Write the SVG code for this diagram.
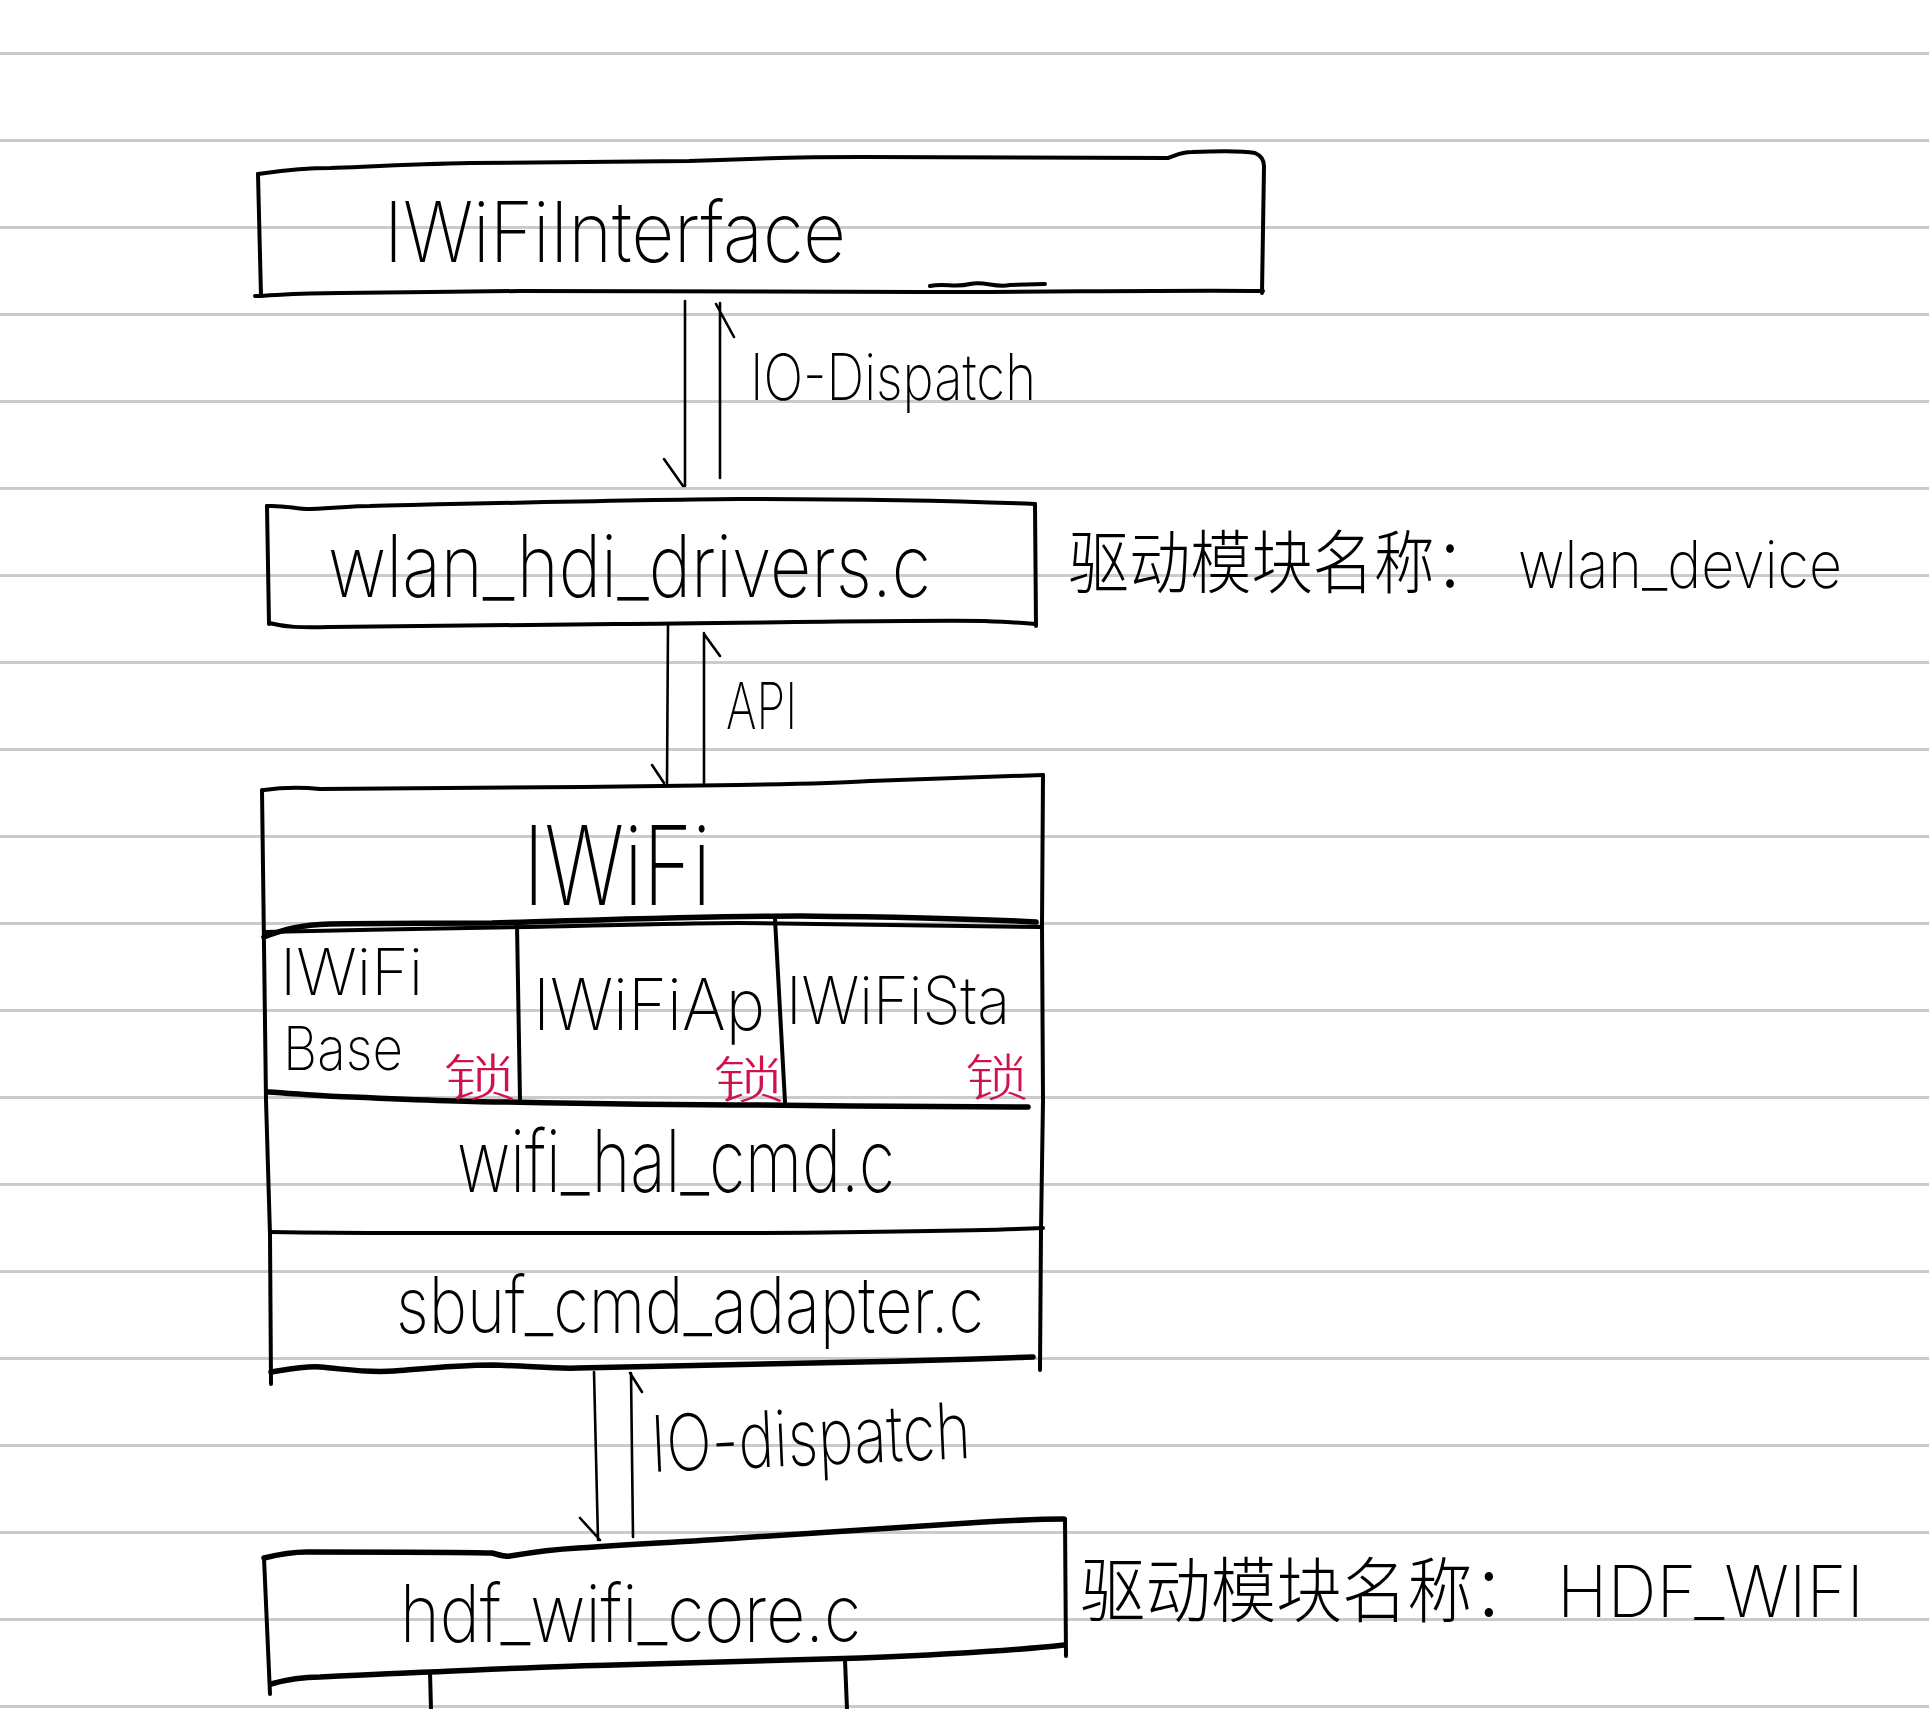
<svg xmlns="http://www.w3.org/2000/svg" width="1929" height="1709" viewBox="0 0 1929 1709">
<style>
.rule{stroke:#cbcbcb;stroke-width:3}
.box{fill:none;stroke:#000;stroke-width:4;stroke-linecap:round;stroke-linejoin:round}
.thick{stroke-width:5.5}
.thin{fill:none;stroke:#000;stroke-width:2.6;stroke-linecap:round}
.t{font-family:"Inter","Liberation Sans",sans-serif;font-weight:200;fill:#000}
.cjk{font-family:"Noto Sans CJK SC",sans-serif;font-weight:300;fill:#000}
.lock{font-family:"Noto Sans CJK SC",sans-serif;font-weight:300;fill:#d0124c}
</style>
<rect width="1929" height="1709" fill="#fff"/>
<g id="paper-lines">
<line class="rule" x1="0" y1="53.5" x2="1929" y2="53.5"/>
<line class="rule" x1="0" y1="140.5" x2="1929" y2="140.5"/>
<line class="rule" x1="0" y1="227.5" x2="1929" y2="227.5"/>
<line class="rule" x1="0" y1="314.5" x2="1929" y2="314.5"/>
<line class="rule" x1="0" y1="401.5" x2="1929" y2="401.5"/>
<line class="rule" x1="0" y1="488.5" x2="1929" y2="488.5"/>
<line class="rule" x1="0" y1="575.5" x2="1929" y2="575.5"/>
<line class="rule" x1="0" y1="662.5" x2="1929" y2="662.5"/>
<line class="rule" x1="0" y1="749.5" x2="1929" y2="749.5"/>
<line class="rule" x1="0" y1="836.5" x2="1929" y2="836.5"/>
<line class="rule" x1="0" y1="923.5" x2="1929" y2="923.5"/>
<line class="rule" x1="0" y1="1010.5" x2="1929" y2="1010.5"/>
<line class="rule" x1="0" y1="1097.5" x2="1929" y2="1097.5"/>
<line class="rule" x1="0" y1="1184.5" x2="1929" y2="1184.5"/>
<line class="rule" x1="0" y1="1271.5" x2="1929" y2="1271.5"/>
<line class="rule" x1="0" y1="1358.5" x2="1929" y2="1358.5"/>
<line class="rule" x1="0" y1="1445.5" x2="1929" y2="1445.5"/>
<line class="rule" x1="0" y1="1532.5" x2="1929" y2="1532.5"/>
<line class="rule" x1="0" y1="1619.5" x2="1929" y2="1619.5"/>
<line class="rule" x1="0" y1="1706.5" x2="1929" y2="1706.5"/>
</g>

<g id="node-iwifiinterface">
<path class="box" d="M258,174 C280,171 300,168 330,168 C380,166 420,164 470,163 L689,161 C760,158 820,157 861,157 L1168,158 C1175,156 1180,152 1192,152 C1215,151 1240,150 1255,153 C1262,156 1264,160 1264,166 L1262,293"/>
<path class="box" d="M258,174 L261,296"/>
<path class="box" d="M255,296 C280,295 300,293 340,293 C400,292 460,292 520,291 L922,292 C1050,292 1180,290 1263,291"/>
<path class="box" d="M930,286 C945,283 955,288 970,284 C985,281 995,288 1010,285 L1045,284"/>
<text class="t" x="384" y="262" font-size="84" textLength="462" lengthAdjust="spacingAndGlyphs">IWiFiInterface</text>
</g>

<g id="node-wlan-hdi-drivers">
<path class="box" d="M267,506 C285,505 295,509 310,509 C340,508 350,506 370,506 C500,503 620,500 738,499 C860,499 960,501 1035,504"/>
<path class="box" d="M267,506 L269,624"/>
<path class="box" d="M1035,504 L1036,626"/>
<path class="box" d="M269,623 C285,627 300,628 330,627 C450,626 550,625 615,624 C750,623 900,620 984,621 C1010,622 1025,623 1036,624"/>
<text class="t" x="328" y="597" font-size="86" textLength="603" lengthAdjust="spacingAndGlyphs">wlan_hdi_drivers.c</text>
<text class="cjk" transform="translate(1068,588) scale(1,1.1)" x="0" y="0" font-size="63" textLength="428" lengthAdjust="spacingAndGlyphs">驱动模块名称：</text>
<text class="t" x="1518" y="588" font-size="66" textLength="324" lengthAdjust="spacingAndGlyphs">wlan_device</text>
</g>

<g id="node-iwifi-stack">
<path class="box" d="M264,790 C285,787 300,787 320,789 C400,789 600,787 738,785 C800,784 840,783 870,781 C950,778 1000,776 1043,775"/>
<path class="box" d="M262,790 L266,1100 L270,1235 L271,1384"/>
<path class="box" d="M1043,775 L1042,925 L1043,1100 L1041,1230 L1040,1370"/>
<path class="box thick" d="M264,937 C285,929 300,925 330,924 C400,923 450,923 492,923 C600,920 700,916 800,916 C900,917 980,919 1036,922"/>
<path class="box" d="M264,932 C350,930 450,928 529,927 C620,925 690,923 738,923 C850,924 960,925 1040,927"/>
<path class="box" d="M517,925 L520,1100"/>
<path class="box" d="M775,919 L785,1102"/>
<path class="box thick" d="M268,1092 C300,1094 330,1097 352,1097 C420,1100 470,1102 505,1102 C600,1104 700,1105 760,1105 C850,1106 960,1107 1028,1107"/>
<path class="box" d="M270,1232 C330,1233 380,1233 403,1233 L760,1233 C900,1232 1000,1230 1043,1228"/>
<path class="box thick" d="M271,1372 C290,1369 305,1366 320,1367 C345,1369 365,1373 394,1371 C430,1368 460,1365 492,1365 C530,1366 555,1369 578,1368 C680,1366 780,1364 861,1362 C950,1360 1000,1358 1033,1357"/>
<text class="t" x="523" y="905" font-size="110" font-weight="300" textLength="188" lengthAdjust="spacingAndGlyphs">IWiFi</text>
<text class="t" x="280" y="995" font-size="64" textLength="143" lengthAdjust="spacingAndGlyphs">IWiFi</text>
<text class="t" x="283" y="1070" font-size="60" textLength="120" lengthAdjust="spacingAndGlyphs">Base</text>
<text class="t" x="533" y="1030" font-size="72" textLength="232" lengthAdjust="spacingAndGlyphs">IWiFiAp</text>
<text class="t" x="786" y="1024" font-size="66" textLength="224" lengthAdjust="spacingAndGlyphs">IWiFiSta</text>
<text class="lock" x="443" y="1096" font-size="50" textLength="74" lengthAdjust="spacingAndGlyphs">锁</text>
<text class="lock" x="713" y="1098" font-size="50" textLength="72" lengthAdjust="spacingAndGlyphs">锁</text>
<text class="lock" x="965" y="1096" font-size="50" textLength="64" lengthAdjust="spacingAndGlyphs">锁</text>
<text class="t" x="457" y="1192" font-size="86" textLength="438" lengthAdjust="spacingAndGlyphs">wifi_hal_cmd.c</text>
<text class="t" x="396" y="1333" font-size="78" textLength="588" lengthAdjust="spacingAndGlyphs">sbuf_cmd_adapter.c</text>
</g>

<g id="node-hdf-wifi-core">
<path class="box thick" d="M264,1558 C280,1554 295,1552 307,1552 C400,1552 460,1552 492,1553 C500,1555 505,1557 510,1556 C540,1551 560,1549 578,1548 C650,1543 700,1541 738,1538 C850,1530 920,1526 984,1522 C1020,1520 1045,1519 1064,1519"/>
<path class="box" d="M264,1558 L270,1694"/>
<path class="box" d="M1065,1519 L1066,1656"/>
<path class="box thick" d="M271,1684 C285,1680 300,1677 320,1677 C360,1675 400,1673 430,1672 C500,1669 560,1666 615,1665 C720,1662 800,1660 861,1658 C960,1654 1020,1650 1064,1645"/>
<path class="box" d="M430,1672 L431,1709"/>
<path class="box" d="M845,1660 L847,1709"/>
<text class="t" x="400" y="1642" font-size="80" textLength="461" lengthAdjust="spacingAndGlyphs">hdf_wifi_core.c</text>
<text class="cjk" transform="translate(1080,1616) scale(1,1.06)" x="0" y="0" font-size="67" textLength="458" lengthAdjust="spacingAndGlyphs">驱动模块名称：</text>
<text class="t" x="1557" y="1617" font-size="72" textLength="307" lengthAdjust="spacingAndGlyphs">HDF_WIFI</text>
</g>

<g id="connectors">
<path class="thin" d="M685,301 L685,486 M664,459 L683,486"/>
<path class="thin" d="M720,478 L720,303 M716,304 L734,337"/>
<text class="t" x="750" y="400" font-size="64" textLength="286" lengthAdjust="spacingAndGlyphs">IO-Dispatch</text>
<path class="thin" d="M668,626 L667,783 M652,765 L664,783"/>
<path class="thin" d="M704,783 L704,633 M704,634 L720,656"/>
<text class="t" x="726" y="729" font-size="64" textLength="71" lengthAdjust="spacingAndGlyphs">API</text>
<path class="thin" d="M594,1372 L598,1540 M580,1518 L600,1540"/>
<path class="thin" d="M633,1537 L631,1373 M630,1373 L642,1392"/>
<text class="t" x="652" y="1472" font-size="78" textLength="320" lengthAdjust="spacingAndGlyphs" transform="rotate(-2.5 652 1472)">IO-dispatch</text>
</g>
</svg>
